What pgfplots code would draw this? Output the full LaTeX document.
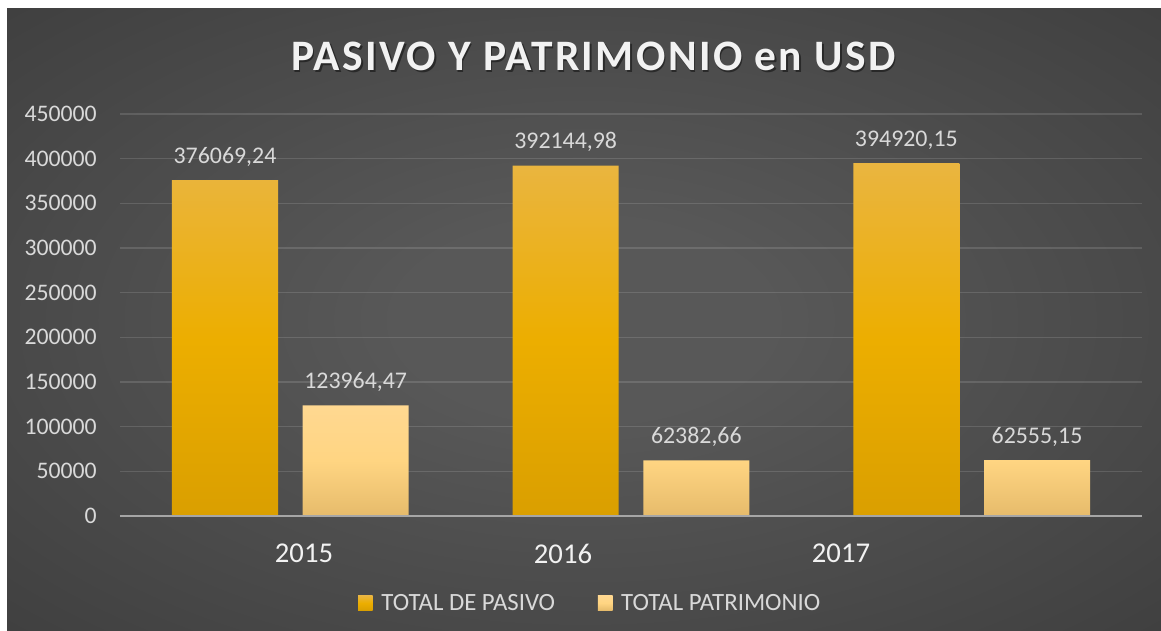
\documentclass[border=0pt]{standalone}
\usepackage{fontspec}
\setmainfont{Carlito}
\usepackage{pgfplots}
\usepackage{pgfplotstable}
\pgfplotsset{compat=1.18}

\definecolor{bgin}{HTML}{585858}
\definecolor{bgmid}{HTML}{333333}
\definecolor{bgout}{HTML}{252525}
\definecolor{lbl}{HTML}{D9D9D9}
\definecolor{yearc}{HTML}{F2F2F2}
\definecolor{pasT}{HTML}{EAB540}
\definecolor{pasM}{HTML}{ECAE00}
\definecolor{pasB}{HTML}{DA9F00}
\definecolor{patT}{HTML}{FFD891}
\definecolor{patM}{HTML}{FFD582}
\definecolor{patB}{HTML}{E6BB6B}
\definecolor{baseln}{HTML}{A6A6A6}

\pgfdeclareradialshading{bg}{\pgfpoint{0bp}{0bp}}{color(0bp)=(bgin); color(8bp)=(bgin); color(50bp)=(bgmid); color(72bp)=(bgout)}

\pgfplotstableread{
x y label
0 376069.24 {376069,24}
1 392144.98 {392144,98}
2 394920.15 {394920,15}
}\pasivo

\pgfplotstableread{
x y label
0 123964.47 {123964,47}
1 62382.66 {62382,66}
2 62555.15 {62555,15}
}\patrimonio

\begin{document}
\begin{tikzpicture}
\fill[white] (0,0) rectangle (870.75pt,-473.25pt);
\shade[shading=bg] (5.25pt,-6.75pt) rectangle (870.75pt,-473.25pt);
% title with soft shadow
\node[anchor=base, text=black, opacity=0.45, inner sep=0pt] at (446.3pt,-54.3pt)
  {\fontsize{32.6pt}{36pt}\selectfont\bfseries\addfontfeatures{LetterSpace=5.5}PASIVO Y PATRIMONIO en USD};
\node[anchor=base, text=yearc, inner sep=0pt] at (445.1pt,-53.25pt)
  {\fontsize{32.6pt}{36pt}\selectfont\bfseries\addfontfeatures{LetterSpace=5.5}PASIVO Y PATRIMONIO en USD};
\begin{axis}[
  at={(90pt,-387pt)}, anchor=south west,
  scale only axis, width=766.5pt, height=301.5pt,
  xmin=-0.5, xmax=2.5, ymin=0, ymax=450000,
  enlargelimits=false, clip=false,
  ybar,
  axis line style={draw=none},
  xtick={0.0401,0.8004,1.6164},
  xticklabels={2015,2016,2017},
  xtick style={draw=none}, ytick style={draw=none},
  scaled y ticks=false,
  ytick={0,50000,100000,150000,200000,250000,300000,350000,400000,450000},
  yticklabels={0,50000,100000,150000,200000,250000,300000,350000,400000,450000},
  yticklabel style={font=\fontsize{17.8pt}{20pt}\selectfont, text=lbl, inner sep=0pt, anchor=east, xshift=-17.25pt},
  xticklabel style={font=\fontsize{21.5pt}{24pt}\selectfont, text=yearc, inner sep=0pt, anchor=north, yshift=-16.5pt},
  ymajorgrids,
  grid style={draw=white, opacity=0.13, line width=0.9pt},
  nodes near coords={\pgfplotspointmeta},
  point meta=explicit symbolic,
  every node near coord/.append style={anchor=base, inner sep=0pt, yshift=12.75pt, font=\fontsize{17.9pt}{20pt}\selectfont, text=lbl},
  legend columns=2,
  legend style={draw=none, fill=none, text=lbl, font=\fontsize{18.6pt}{20pt}\selectfont,
    at={(axis description cs:0.4604,-0.2164)}, anchor=center,
    /tikz/every even column/.append style={column sep=30pt},
    /tikz/every odd column/.append style={column sep=4.5pt}},
  legend cell align=left,
  legend image code/.code={\fill[#1] (0pt,-5.5pt) rectangle (11pt,5.5pt);},
]
\addplot[bar width=79.5pt, bar shift=-49pt, draw=none, top color=pasT, bottom color=pasB, middle color=pasM]
  table[x=x, y=y, meta=label] {\pasivo};
\addlegendentry{TOTAL DE PASIVO}
\addplot[bar width=79.5pt, bar shift=49pt, draw=none, top color=patT, bottom color=patB, middle color=patM]
  table[x=x, y=y, meta=label] {\patrimonio};
\addlegendentry{TOTAL PATRIMONIO}
\draw[baseln, line width=1.5pt] (rel axis cs:0,0) -- (rel axis cs:1,0);
\end{axis}
\pgfresetboundingbox
\useasboundingbox (0,0) rectangle (870.75pt,-473.25pt);
\end{tikzpicture}
\end{document}
